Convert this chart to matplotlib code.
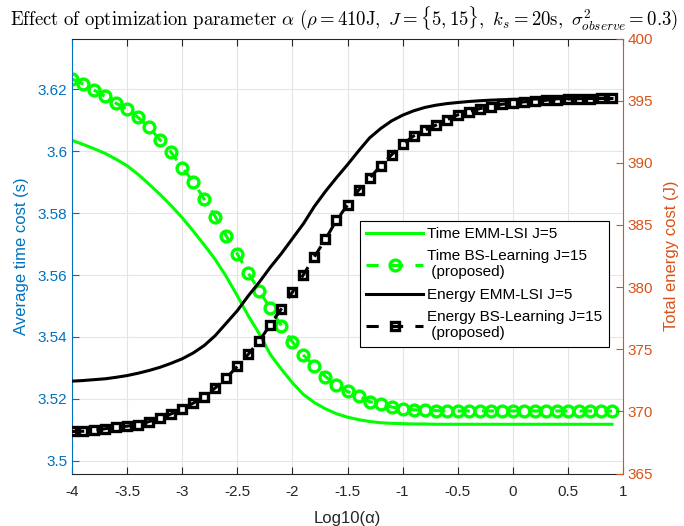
import numpy as np
import matplotlib
matplotlib.use("Agg")
import matplotlib.pyplot as plt

# ---------------------------------------------------
# DATA
# ---------------------------------------------------
log_alpha = np.round(np.arange(-4.0, 0.95, 0.1), 1)   # 50 points, -4 .. 0.9

time_emm = [
    3.6035, 3.6022, 3.6008, 3.5993, 3.5974, 3.5953, 3.5925, 3.5893, 3.5860, 3.5824,
    3.5785, 3.5742, 3.5697, 3.5650, 3.5595, 3.5533, 3.5468, 3.5410, 3.5343, 3.5296,
    3.5252, 3.5214, 3.5188, 3.5168, 3.5152, 3.5141, 3.5133, 3.5127, 3.5123, 3.5121,
    3.5120, 3.5119, 3.5119, 3.5118, 3.5118, 3.5118, 3.5118, 3.5118, 3.5118, 3.5118,
    3.5118, 3.5118, 3.5118, 3.5118, 3.5118, 3.5118, 3.5118, 3.5118, 3.5118, 3.5118,
]
time_bsl = [
    3.6233, 3.6217, 3.6197, 3.6177, 3.6155, 3.6136, 3.6109, 3.6077, 3.6036, 3.5996,
    3.5947, 3.5902, 3.5845, 3.5789, 3.5726, 3.5668, 3.5606, 3.5549, 3.5492, 3.5436,
    3.5384, 3.5341, 3.5306, 3.5272, 3.5244, 3.5224, 3.5209, 3.5191, 3.5183, 3.5174,
    3.5168, 3.5165, 3.5163, 3.5162, 3.5161, 3.5161, 3.5161, 3.5161, 3.5161, 3.5161,
    3.5161, 3.5161, 3.5161, 3.5161, 3.5161, 3.5161, 3.5161, 3.5161, 3.5161, 3.5161,
]
energy_emm = [
    372.43, 372.48, 372.55, 372.62, 372.74, 372.88, 373.07, 373.29, 373.55, 373.87,
    374.23, 374.70, 375.30, 376.10, 377.10, 378.10, 379.30, 380.40, 381.60, 382.70,
    383.90, 385.10, 386.50, 387.70, 388.80, 389.85, 390.95, 392.00, 392.75, 393.37,
    393.83, 394.18, 394.45, 394.63, 394.76, 394.85, 394.93, 394.99, 395.04, 395.07,
    395.10, 395.12, 395.13, 395.14, 395.15, 395.16, 395.16, 395.17, 395.17, 395.17,
]
energy_bsl = [
    368.38, 368.40, 368.48, 368.60, 368.73, 368.81, 368.94, 369.18, 369.45, 369.80,
    370.20, 370.66, 371.19, 371.89, 372.70, 373.61, 374.60, 375.70, 376.96, 378.25,
    379.59, 381.00, 382.45, 383.85, 385.38, 386.60, 387.79, 388.76, 389.75, 390.64,
    391.49, 392.16, 392.62, 393.02, 393.45, 393.86, 394.12, 394.36, 394.52, 394.71,
    394.79, 394.90, 394.95, 395.03, 395.09, 395.14, 395.17, 395.17, 395.20, 395.20,
]

x_ticks = [-4, -3.5, -3, -2.5, -2, -1.5, -1, -0.5, 0, 0.5, 1]
x_tick_labels = ["-4", "-3.5", "-3", "-2.5", "-2", "-1.5", "-1", "-0.5", "0", "0.5", "1"]
left_ticks = [3.5, 3.52, 3.54, 3.56, 3.58, 3.6, 3.62]
left_tick_labels = ["3.5", "3.52", "3.54", "3.56", "3.58", "3.6", "3.62"]
right_ticks = [365, 370, 375, 380, 385, 390, 395, 400]

labels = [
    "Time EMM-LSI J=5",
    "Time BS-Learning J=15\n (proposed)",
    "Energy EMM-LSI J=5",
    "Energy BS-Learning J=15\n (proposed)",
]

# ---------------------------------------------------
BLUE = "#0072BD"
ORANGE = "#D95319"
GREEN = "#00FF00"
AXCOL = "#262626"


def main():
    plt.rcParams["font.family"] = ["Liberation Sans", "DejaVu Sans"]
    plt.rcParams["mathtext.fontset"] = "cm"

    fig = plt.figure(figsize=(6.84, 5.26), dpi=100)
    ax = fig.add_axes([0.1053, 0.0998, 0.8055, 0.827])
    ax2 = ax.twinx()

    l1, = ax.plot(log_alpha, time_emm, color=GREEN, linewidth=2.2, label=labels[0])
    l2, = ax.plot(log_alpha, time_bsl, color=GREEN, linewidth=2.2, linestyle="--",
                  dashes=(4, 4), marker="o", markersize=7.8, markerfacecolor="none",
                  markeredgewidth=2.4, label=labels[1])
    l3, = ax2.plot(log_alpha, energy_emm, color="black", linewidth=2.2, label=labels[2])
    l4, = ax2.plot(log_alpha, energy_bsl, color="black", linewidth=2.2, linestyle="--",
                   dashes=(4, 4), marker="s", markersize=5.6, markerfacecolor="none",
                   markeredgewidth=2.4, label=labels[3])

    ax.set_xlim(-4, 1)
    ax.set_ylim(3.4959, 3.6364)
    ax2.set_ylim(365, 400)

    ax.set_xticks(x_ticks)
    ax.set_xticklabels(x_tick_labels)
    ax.set_yticks(left_ticks)
    ax.set_yticklabels(left_tick_labels)
    ax2.set_yticks(right_ticks)

    # grid: vertical grey, horizontal tinted like the left axis
    for xv in x_ticks[1:-1]:
        ax.axvline(xv, color="#e3e3e3", linewidth=0.8, zorder=0)
    for yv in left_ticks:
        ax.axhline(yv, color="#dce8f4", linewidth=0.8, zorder=0)

    ax.tick_params(axis="x", direction="in", top=True, colors=AXCOL, labelsize=11,
                   length=5, pad=8)
    ax.tick_params(axis="y", direction="in", colors=BLUE, labelsize=11, length=5)
    ax2.tick_params(axis="y", direction="in", colors=ORANGE, labelsize=11, length=5)

    ax.spines["top"].set_color(AXCOL)
    ax.spines["bottom"].set_color(AXCOL)
    ax.spines["left"].set_color(BLUE)
    ax.spines["right"].set_visible(False)
    ax2.spines["right"].set_color(ORANGE)
    ax2.spines["left"].set_visible(False)
    ax2.spines["top"].set_visible(False)
    ax2.spines["bottom"].set_visible(False)

    ax.set_xlabel("Log10(\u03b1)", fontsize=12, color=AXCOL, labelpad=9)
    ax.set_ylabel("Average time cost (s)", fontsize=12, color=BLUE, labelpad=6)
    ax2.set_ylabel("Total energy cost (J)", fontsize=12, color=ORANGE, labelpad=8)

    title = (r"$\mathrm{Effect\ of\ optimization\ parameter}\ \alpha\ "
             r"(\rho=410\mathrm{J},\ J=\{5,15\},\ k_s=20\mathrm{s},\ "
             r"\sigma^2_{observe}=0.3)$")
    fig.text(0.503, 0.966, title, ha="center", va="center", fontsize=13.5)

    leg = ax2.legend([l1, l2, l3, l4], labels, loc="upper right",
                     bbox_to_anchor=(0.974, 0.581), borderaxespad=0,
                     fontsize=11, handlelength=3.7, fancybox=False,
                     framealpha=1, edgecolor="black", labelspacing=0.55,
                     borderpad=0.4, handletextpad=0.3)
    leg.get_frame().set_linewidth(0.8)

    plt.savefig("out.png", dpi=100)


if __name__ == "__main__":
    main()
